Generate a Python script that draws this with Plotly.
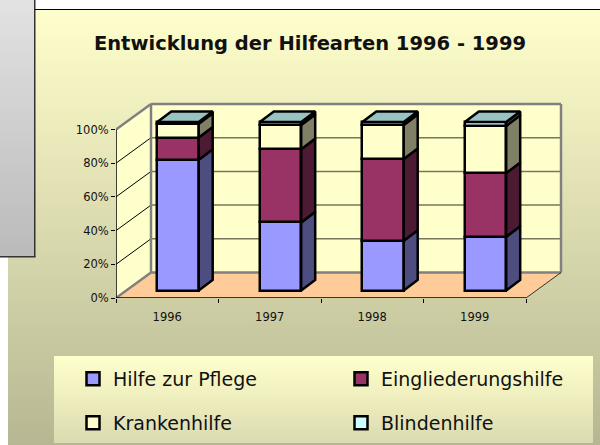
import plotly.graph_objects as go

title = "Entwicklung der Hilfearten 1996 - 1999"
years = ["1996", "1997", "1998", "1999"]
pflege = [77.6, 40.4, 29.5, 31.9]
eingliederung = [13.2, 43.5, 48.5, 37.8]
kranken = [8.1, 14.3, 20.2, 28.0]
blinden = [1.1, 1.8, 1.8, 2.3]
names = ["Hilfe zur Pflege", "Eingliederungshilfe", "Krankenhilfe", "Blindenhilfe"]
y_ticks = [0, 20, 40, 60, 80, 100]

W, H = 600, 445
PX_X, PX_Y = 102.5, 1.685           # pixels per category / per percent
ML, MB, MR, MT = 116, 147, 30, 98
WALL_DX, WALL_DY = 35 / PX_X, 25.5 / PX_Y
BAR_W = 41.4 / PX_X
OFF_X, OFF_Y = 10.75 / PX_X, 7.5 / PX_Y
BAR_DX, BAR_DY = 14 / PX_X, 10.6 / PX_Y
series = [pflege, eingliederung, kranken, blinden]
fronts = ["#9999FF", "#993366", "#FFFFCC", "#CCFFFF"]
sides = ["#4D4D80", "#4D1A33", "#808066", "#668080"]
TOP_FACE = "#99C2C2"


def fx(px):
    return (px - ML) / (W - ML - MR)


def fy(py):
    return 1 - (py - MT) / (H - MT - MB)


def lerp(c1, c2, t):
    return "rgb(%d,%d,%d)" % tuple(round(a + (b - a) * t) for a, b in zip(c1, c2))


def band_shapes(x0, x1, y0, y1, c1, c2, step=3):
    out = []
    y = y0
    while y < y1:
        e = min(y + step, y1)
        out.append(dict(type="rect", xref="paper", yref="paper", layer="below",
                        x0=fx(x0), x1=fx(x1), y0=fy(y), y1=fy(min(e + 0.5, y1)),
                        fillcolor=lerp(c1, c2, (y - y0) / (y1 - y0)), line_width=0))
        y = e
    return out


def box(x0, x1, y0, y1, color):
    return dict(type="rect", xref="paper", yref="paper", layer="below",
                x0=fx(x0), x1=fx(x1), y0=fy(y0), y1=fy(y1),
                fillcolor=color, line_width=0)


def poly(points, fill, line=None, width=0):
    path = "M" + "L".join(f"{x},{y}" for x, y in points) + "Z"
    return dict(type="path", xref="x", yref="y", layer="below", path=path,
                fillcolor=fill, line=dict(color=line or fill, width=width))


def seg(x0, y0, x1, y1, color, width):
    return dict(type="line", xref="x", yref="y", layer="below", x0=x0, y0=y0, x1=x1, y1=y1,
                line=dict(color=color, width=width))


shapes = []
shapes += band_shapes(8, 600, 9, 445, (255, 255, 204), (182, 182, 146))
shapes += band_shapes(0, 35, 0, 257, (226, 226, 226), (186, 186, 186))
shapes.append(box(34, 35.5, 0, 257, "#333333"))
shapes.append(box(0, 35.5, 256, 257.5, "#333333"))
shapes.append(box(35, 600, 9, 10, "#000000"))
shapes += band_shapes(54, 593, 356, 443, (255, 255, 204), (218, 218, 176))

n = len(years)
top = 100
shapes.append(poly([(0, 0), (n, 0), (n + WALL_DX, WALL_DY), (WALL_DX, WALL_DY)], "#FFCC99"))
shapes.append(poly([(0, 0), (0, top), (WALL_DX, top + WALL_DY), (WALL_DX, WALL_DY)], "#FFFFCC"))
shapes.append(poly([(WALL_DX, WALL_DY), (WALL_DX, top + WALL_DY), (n + WALL_DX, top + WALL_DY),
                    (n + WALL_DX, WALL_DY)], "#FFFFCC"))
for t in y_ticks[1:-1]:
    shapes.append(seg(WALL_DX, t + WALL_DY, n + WALL_DX, t + WALL_DY, "#77775C", 1.5))
    shapes.append(seg(0, t, WALL_DX, t + WALL_DY, "#000000", 1))
for a in [(WALL_DX, WALL_DY, WALL_DX, top + WALL_DY), (WALL_DX, top + WALL_DY, n + WALL_DX, top + WALL_DY),
          (n + WALL_DX, top + WALL_DY, n + WALL_DX, WALL_DY), (WALL_DX, WALL_DY, n + WALL_DX, WALL_DY),
          (0, top, WALL_DX, top + WALL_DY), (0, 0, WALL_DX, WALL_DY)]:
    shapes.append(seg(*a, "#808080", 2.5))
shapes.append(seg(n, 0, n + WALL_DX, WALL_DY, "#333333", 1))

fig = go.Figure()
xs = [i + 0.5 + OFF_X for i in range(n)]
bases = [OFF_Y] * n
for name, vals, front, side in zip(names, series, fronts, sides):
    fig.add_bar(x=xs, y=vals, base=bases, width=BAR_W, name=name, showlegend=False,
                marker=dict(color=front, line=dict(color="#000000", width=2.5)), hoverinfo="skip")
    px, py = [], []
    for x, b, v in zip(xs, bases, vals):
        r = x + BAR_W / 2
        px += [r, r + BAR_DX, r + BAR_DX, r, r, None]
        py += [b, b + BAR_DY, b + v + BAR_DY, b + v, b, None]
    fig.add_scatter(x=px, y=py, mode="lines", fill="toself", fillcolor=side,
                    line=dict(color="#000000", width=2.5), showlegend=False, hoverinfo="skip")
    bases = [b + v for b, v in zip(bases, vals)]

px, py = [], []
for x, b in zip(xs, bases):
    l, r = x - BAR_W / 2, x + BAR_W / 2
    px += [l, r, r + BAR_DX, l + BAR_DX, l, None]
    py += [b, b, b + BAR_DY, b + BAR_DY, b, None]
fig.add_scatter(x=px, y=py, mode="lines", fill="toself", fillcolor=TOP_FACE,
                line=dict(color="#000000", width=2.5), showlegend=False, hoverinfo="skip")

# front axis lines, left unclipped
fig.add_scatter(x=[0, 0, None, 0, n], y=[top, 0, None, 0, 0], mode="lines", cliponaxis=False,
                line=dict(color="#000000", width=1.5), showlegend=False, hoverinfo="skip")

# one legend per entry so the 2x2 grid keeps the reference's wide spacing
legend_ids = ["legend", "legend2", "legend3", "legend4"]
legend_pos = [(73, 379), (341, 379), (73, 423), (341, 423)]
legends = {}
for name, front, lid, (lx, ly) in zip(names, fronts, legend_ids, legend_pos):
    fig.add_scatter(x=[None], y=[None], mode="markers", name=name, legend=lid, hoverinfo="skip",
                    marker=dict(symbol="square", size=13, color=front,
                                line=dict(color="#000000", width=2.5)))
    legends[lid] = dict(xref="container", yref="container", x=lx / W, y=1 - ly / H,
                        xanchor="left", yanchor="middle", bgcolor="rgba(0,0,0,0)",
                        font=dict(family="DejaVu Sans", size=19, color="#111111"))

fig.update_layout(
    width=W, height=H, autosize=False, barmode="overlay", bargap=0,
    margin=dict(l=ML, r=MR, t=MT, b=MB, autoexpand=False),
    paper_bgcolor="#FFFFFF", plot_bgcolor="rgba(0,0,0,0)",
    font=dict(family="DejaVu Sans", color="#111111"),
    shapes=shapes,
    title=dict(text=f"<b>{title}</b>", x=310 / W, xanchor="center", xref="container",
               y=1 - 43 / H, yanchor="middle", yref="container",
               font=dict(family="DejaVu Sans", size=19.5, color="#111111")),
    xaxis=dict(range=[0, (W - MR - ML) / PX_X], showgrid=False, zeroline=False, showline=False,
               tickvals=[i + 0.5 for i in range(n)], ticktext=years, ticks="", ticklabelstandoff=10,
               tickfont=dict(size=11.5),
               minor=dict(tickvals=list(range(n + 1)), ticks="outside", ticklen=4, tickwidth=1,
                          tickcolor="#000000", showgrid=False)),
    yaxis=dict(range=[0, (H - MB - MT) / PX_Y], showgrid=False, zeroline=False, showline=False,
               tickvals=y_ticks, ticktext=[f"{t}%" for t in y_ticks], ticks="outside", ticklen=4,
               tickwidth=1, tickcolor="#000000", tickfont=dict(size=11.5)),
    **legends,
)

fig.write_html("out.html", config=dict(displayModeBar=False),
               post_script="document.body.style.margin='0';")
